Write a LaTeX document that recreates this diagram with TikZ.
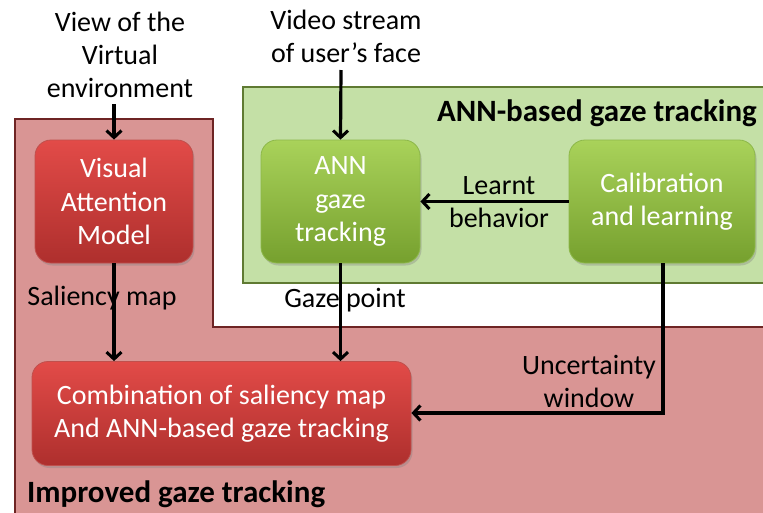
\documentclass[tikz,border=0pt]{standalone}
\usepackage{fontspec}
\setmainfont{Carlito}
\usetikzlibrary{arrows.meta,shadows}

\definecolor{regionred}{HTML}{D99594}
\definecolor{regionredline}{HTML}{6E2424}
\definecolor{regiongreen}{HTML}{C4E0A6}
\definecolor{regiongreenline}{HTML}{5F7A32}
\definecolor{boxredtop}{HTML}{E24B48}
\definecolor{boxredbot}{HTML}{AE2F2D}
\definecolor{boxredline}{HTML}{C0504D}
\definecolor{boxgreentop}{HTML}{A9D25A}
\definecolor{boxgreenbot}{HTML}{76A02E}
\definecolor{boxgreenline}{HTML}{8DB84A}

\tikzset{
  procbox/.style={rounded corners=16pt, text=white, align=center,
    font=\fontsize{28}{33.5}\selectfont, line width=0.8pt, inner sep=0pt,
    drop shadow={shadow xshift=1.5pt, shadow yshift=-2.5pt, opacity=0.35}},
  redbox/.style={procbox, draw=boxredline, top color=boxredtop, bottom color=boxredbot},
  greenbox/.style={procbox, draw=boxgreenline, top color=boxgreentop, bottom color=boxgreenbot},
  lbl/.style={align=center, font=\fontsize{28}{33}\selectfont, inner sep=0pt},
  title/.style={font=\bfseries\fontsize{31}{34}\selectfont, inner sep=0pt},
  flow/.style={line width=3.2pt, -{Straight Barb[length=7pt,width=15pt,line width=3pt]}}
}

\begin{document}
\begin{tikzpicture}[x=1pt,y=-1pt]
\useasboundingbox (0,0) rectangle (763,512);
\clip (0,0) rectangle (763,512);

% background regions
\draw[fill=regionred, draw=regionredline, line width=2pt]
  (15,119) -- (213,119) -- (213,327) -- (775,327) -- (775,525) -- (15,525) -- cycle;
\draw[fill=regiongreen, draw=regiongreenline, line width=2pt]
  (243,87) rectangle (775,283);

\node[title, anchor=east] (anntitle) at (757,113) {ANN-based gaze tracking};
\node[title, anchor=west] (imptitle) at (27,494) {Improved gaze tracking};

% process boxes
\node[redbox, minimum width=158pt, minimum height=123pt] (vam) at (114,201.5)
  {Visual\\Attention\\Model};
\node[greenbox, minimum width=159pt, minimum height=123pt] (ann) at (340.5,201.5)
  {ANN\\gaze\\tracking};
\node[greenbox, minimum width=186pt, minimum height=123pt] (cal) at (662,201.5)
  {Calibration\\and learning};
\node[redbox, minimum width=379pt, minimum height=104pt] (comb) at (221.5,413.5)
  {Combination of saliency map\\And ANN-based gaze tracking};

% inputs
\node[lbl] (view) at (120,55) {View of the\\Virtual\\environment};
\node[lbl] (video) at (346,36) {Video stream\\of user’s face};
\coordinate (viewend) at (114,104);
\coordinate (videoend) at (341,70);

\draw[flow] (viewend) -- (vam.north);
\draw[flow] (videoend) -- (ann.north);

% flows
\draw[flow] (vam.south) -- (vam.south |- comb.north);
\draw[flow] (ann.south) -- (ann.south |- comb.north);
\draw[flow] (cal.west) -- (ann.east);
\coordinate (bend) at (663,413);
\draw[flow] (cal.south -| bend) -- (bend) -- (comb.east |- bend);

% connector labels
\node[lbl] (salmap) at (102,298) {Saliency map};
\node[lbl] (gazept) at (345,300) {Gaze point};
\node[lbl] (learnt) at (499,202) {Learnt\\behavior};
\node[lbl] (uncert) at (589,381) {Uncertainty\\window};
\end{tikzpicture}
\end{document}
